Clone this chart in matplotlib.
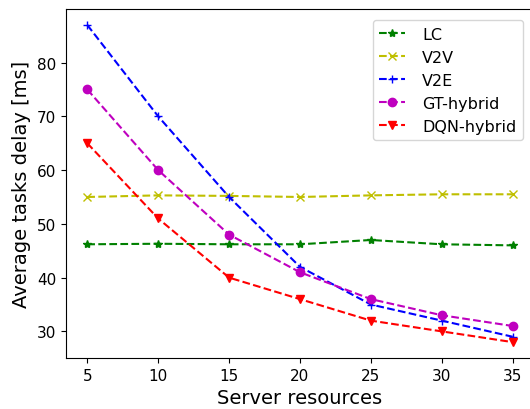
import matplotlib
matplotlib.use('Agg')
import matplotlib.pyplot as plt

resources = [5, 10, 15, 20, 25, 30, 35]
lc = [46.2, 46.3, 46.2, 46.2, 47.0, 46.2, 46.0]
v2v = [55.0, 55.3, 55.2, 55.0, 55.3, 55.5, 55.5]
v2e = [87.0, 70.0, 55.0, 42.0, 35.0, 32.0, 29.0]
gt_hybrid = [75.0, 60.0, 48.0, 41.0, 36.0, 33.0, 31.0]
dqn_hybrid = [65.0, 51.0, 40.0, 36.0, 32.0, 30.0, 28.0]

fig = plt.figure(figsize=(5.3, 4.1), dpi=100)
ax = fig.add_axes([0.1245, 0.1244, 0.883, 0.851])

ax.plot(resources, lc, 'g--*', label='LC')
ax.plot(resources, v2v, 'y--x', label='V2V')
ax.plot(resources, v2e, 'b--+', label='V2E')
ax.plot(resources, gt_hybrid, 'm--o', label='GT-hybrid')
ax.plot(resources, dqn_hybrid, 'r--v', label='DQN-hybrid')

ax.set_xticks(resources)
ax.tick_params(labelsize=11)
ax.set_xlabel('Server resources', fontsize=14)
ax.set_ylabel('Average tasks delay [ms]', fontsize=14)
ax.legend(loc='upper right', fontsize=11.5, handlelength=1.6, handletextpad=1.1,
          borderaxespad=0.7)

fig.savefig('out.png', dpi=100)
